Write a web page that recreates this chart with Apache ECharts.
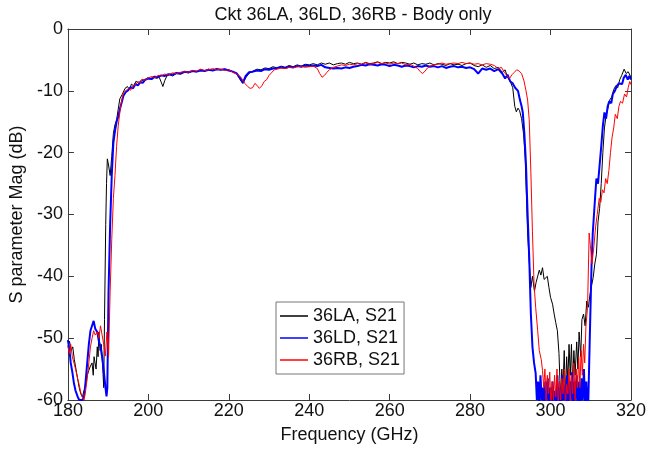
<!DOCTYPE html>
<html>
<head>
<meta charset="utf-8">
<script src="https://cdn.jsdelivr.net/npm/echarts@6/dist/echarts.min.js"></script>
<style>html,body{margin:0;padding:0;background:#fff}#c{width:649px;height:449px}</style>
</head>
<body>
<div id="c"></div>
<script>
const titleText = 'Ckt 36LA, 36LD, 36RB - Body only';
const xName = 'Frequency (GHz)';
const yName = 'S parameter Mag (dB)';
const seriesNames = ['36LA, S21', '36LD, S21', '36RB, S21'];
const xTicks = [180, 200, 220, 240, 260, 280, 300, 320];
const yTicks = [-60, -50, -40, -30, -20, -10, 0];

// [frequency GHz, dB]
const s21_36LA = [
[180,-51.4],[180.4,-50.5],[180.8,-52],[181.2,-51.4],[181.6,-53.5],[182,-55],[182.4,-56.5],[182.8,-58],[183.2,-59],[183.6,-59.5],[184,-58.5],[184.4,-57.8],[184.8,-56],[185.2,-55.2],[185.6,-54.5],[186,-54],[186.3,-56],[186.5,-53],[186.7,-52.9],[187,-55],[187.3,-51.4],[187.5,-53],[187.7,-49],[188,-52],[188.3,-51],[188.6,-54],[188.9,-58],[189.1,-47],[189.4,-31.6],[189.6,-25],[189.8,-21],[190.1,-22],[190.5,-23.7],[190.9,-20.6],[191.3,-16.9],[191.7,-15.5],[192.1,-14.7],[192.5,-13],[192.9,-11.3],[193.5,-10.6],[194.2,-9.6],[194.8,-9.3],[195.3,-9.8],[195.8,-8.9],[196.3,-9.2],[197,-8.4],[197.6,-8.8],[198.3,-8.2],[199,-8.5],[199.7,-7.9],[200.5,-8.1],[201.2,-7.7],[202,-8.0],[202.7,-7.8],[203.2,-8.6],[203.6,-9.3],[204.1,-8.3],[204.6,-7.6],[205.3,-7.4],[206,-7.6],[207,-7.2],[208,-7.3],[209,-7.0],[210,-7.1],[211,-6.8],[212,-6.9],[213,-6.6],[214,-6.8],[215,-6.5],[216,-6.7],[217,-6.4],[218,-6.6],[219,-6.5],[220,-6.6],[221,-6.9],[222,-7.3],[222.8,-8.2],[223.5,-8.8],[224.2,-7.9],[225,-7.2],[226,-6.8],[227,-6.5],[228,-6.6],[229,-6.3],[230,-6.4],[231,-6.1],[232,-6.3],[233,-6.0],[234,-6.2],[235,-5.9],[236,-6.1],[237,-5.8],[238,-6.0],[239,-5.7],[240,-5.8],[241,-5.6],[242,-5.8],[243,-5.5],[244,-5.7],[245,-5.5],[246,-5.8],[247,-5.6],[248,-5.5],[249,-5.7],[250,-5.4],[251,-5.6],[252,-5.5],[253,-5.7],[254,-5.4],[255,-5.6],[256,-5.5],[257,-5.3],[258,-5.6],[259,-5.4],[260,-5.5],[261,-5.3],[262,-5.6],[263,-5.4],[264,-5.5],[265,-5.7],[266,-5.5],[267,-5.8],[268,-5.6],[269,-5.7],[270,-5.5],[271,-5.8],[272,-5.6],[273,-5.7],[274,-5.9],[275,-5.6],[276,-5.8],[277,-5.7],[278,-5.9],[279,-5.6],[280,-5.5],[281,-5.9],[282,-6.1],[283,-5.8],[284,-6.2],[285,-5.9],[286,-6.4],[287,-6.2],[288,-7.0],[288.7,-6.6],[289.3,-7.8],[290,-8.5],[290.6,-9.5],[291.1,-12.5],[291.5,-13.4],[291.9,-12.8],[292.3,-13.2],[292.8,-14.5],[293.3,-17],[293.7,-21],[294,-27],[294.3,-33],[294.6,-36.5],[295.1,-41.8],[295.5,-40],[296,-42.4],[296.4,-41],[296.8,-40.8],[297.2,-39],[297.6,-39.8],[298,-38.6],[298.4,-40.5],[298.8,-40.8],[299.2,-40],[299.6,-41.8],[300,-43.4],[300.5,-44.5],[300.9,-46.1],[301.3,-47.5],[301.7,-48.8],[302.1,-52.5],[302.5,-60],[302.8,-55],[303.1,-58],[303.4,-52],[303.7,-60],[304,-53],[304.3,-57],[304.6,-51],[304.9,-56],[305.2,-51],[305.5,-58],[305.8,-52],[306.1,-56],[306.5,-50.6],[306.8,-55],[307.1,-49],[307.5,-53],[307.8,-47],[308.2,-46.1],[308.6,-48],[309,-44],[309.4,-45],[309.8,-43],[310.2,-41.5],[310.6,-40.2],[311,-38],[311.4,-36.5],[311.8,-31.2],[312.2,-29],[312.6,-25],[313,-20],[313.4,-16],[313.8,-14],[314.2,-13],[314.7,-11.5],[315.2,-11],[315.7,-9.8],[316.2,-9.2],[316.7,-9.5],[317.2,-8.2],[317.7,-7.5],[318.3,-6.5],[318.8,-7.2],[319.3,-6.9],[320,-7.8]
];

const s21_36LD = [
[180,-50.3],[180.4,-52],[180.7,-54],[181.1,-55.5],[181.5,-57.3],[181.9,-58.5],[182.4,-59.4],[182.8,-60],[183.2,-59.8],[183.6,-60],[184,-59.5],[184.4,-57],[184.8,-54],[185.2,-51],[185.6,-48.8],[186,-48],[186.4,-47.2],[186.8,-48.5],[187.3,-49],[187.7,-50.5],[188.1,-51.4],[188.5,-53],[188.9,-55.2],[189.3,-57.8],[189.6,-59.4],[189.8,-58],[190.1,-42.4],[190.5,-31.6],[190.9,-23.7],[191.3,-18.4],[191.7,-16.5],[192.1,-15],[192.5,-14.2],[192.9,-13],[193.4,-11.8],[193.8,-10.8],[194.4,-10.2],[195,-9.9],[195.6,-9.4],[196.2,-9.6],[196.8,-8.9],[197.4,-9.1],[198,-8.6],[198.6,-8.7],[199.2,-8.2],[200,-8.0],[200.8,-8.1],[201.6,-7.7],[202.4,-7.8],[203.2,-7.5],[204,-7.6],[205,-7.3],[206,-7.4],[207,-7.1],[208,-7.2],[209,-6.9],[210,-7.0],[211,-6.8],[212,-6.9],[213,-6.7],[214,-6.8],[215,-6.6],[216,-6.7],[217,-6.5],[218,-6.6],[219,-6.5],[220,-6.7],[221,-6.9],[222,-7.2],[222.8,-7.9],[223.5,-8.7],[224.2,-7.6],[225,-7.0],[226,-6.9],[227,-6.7],[228,-6.8],[229,-6.5],[230,-6.6],[231,-6.4],[232,-6.3],[233,-6.2],[234,-6.3],[235,-6.1],[236,-6.2],[237,-6.0],[238,-6.1],[239,-5.9],[240,-6.0],[241,-5.9],[242,-6.0],[243,-5.8],[244,-6.2],[245,-6.3],[246,-6.4],[247,-6.3],[248,-6.4],[249,-6.2],[250,-6.3],[251,-6.1],[252,-6.0],[253,-5.8],[254,-5.9],[255,-5.7],[256,-5.8],[257,-5.9],[258,-5.7],[259,-5.8],[260,-6.0],[261,-5.8],[262,-5.9],[263,-6.1],[264,-5.9],[265,-6.0],[266,-6.2],[267,-6.0],[268,-6.1],[269,-5.9],[270,-6.1],[271,-6.0],[272,-6.2],[273,-6.0],[274,-6.3],[275,-6.1],[276,-6.0],[277,-6.2],[278,-6.1],[279,-6.3],[280,-6.2],[281,-6.5],[282,-7.2],[283,-6.4],[284,-6.6],[285,-6.4],[286,-6.8],[287,-6.5],[288,-7.2],[288.7,-8.0],[289.3,-7.4],[290,-8.5],[290.6,-8.8],[291.2,-9.5],[291.9,-10],[292.4,-11.5],[292.8,-12.5],[293.1,-13.5],[293.5,-17],[293.9,-22],[294.3,-30],[294.7,-37],[295.1,-46],[295.5,-51.4],[295.9,-54],[296.3,-55.7],[296.6,-60],[296.9,-57],[297.2,-61],[297.5,-56],[297.8,-60],[298.1,-58],[298.4,-62],[298.7,-57],[299,-60],[299.3,-56.5],[299.6,-61],[299.9,-58],[300.2,-62],[300.5,-57],[300.8,-60],[301.1,-58.5],[301.4,-62],[301.7,-56],[302,-61],[302.3,-58],[302.6,-62],[302.9,-56],[303.2,-60],[303.5,-57.5],[303.8,-62],[304.1,-56],[304.4,-61],[304.7,-57],[305,-60],[305.3,-55.5],[305.6,-61],[305.9,-57],[306.2,-60],[306.5,-56],[306.8,-61],[307.1,-57],[307.4,-62],[307.7,-56.5],[308,-60],[308.3,-55],[308.6,-61],[308.9,-57],[309.2,-62],[309.4,-60],[309.8,-48.7],[310.2,-38],[310.5,-33],[310.8,-30],[311.1,-27],[311.4,-24.2],[311.8,-25],[312.2,-22],[312.6,-19],[313,-15.7],[313.4,-13.5],[313.8,-14.5],[314.2,-12.5],[314.6,-11.7],[315.1,-12],[315.5,-10.5],[316,-10],[316.5,-9.2],[317,-8.8],[317.3,-8.5],[317.8,-8.9],[318.2,-7.9],[318.7,-7.4],[319.2,-8.2],[319.6,-7.6],[320,-8.2]
];

const s21_36RB = [
[180,-51.4],[180.4,-52.5],[180.7,-51],[181.1,-53],[181.5,-54],[181.9,-55],[182.4,-56.5],[182.8,-57.5],[183.2,-58.8],[183.6,-59.5],[184,-60],[184.4,-58.5],[184.8,-56.5],[185.2,-54],[185.6,-51.4],[186,-50],[186.4,-48.8],[186.8,-49.5],[187.3,-49],[187.7,-50],[188.1,-48],[188.5,-49.5],[188.9,-51],[189.3,-52.9],[189.7,-49],[190.1,-53],[190.5,-42.4],[190.9,-34],[191.3,-27.4],[191.7,-23.7],[192.1,-19],[192.5,-15.7],[193,-13],[193.4,-11.5],[193.8,-10.3],[194.4,-10.0],[195,-9.6],[195.6,-9.9],[196.2,-9.2],[196.8,-9.0],[197.4,-8.5],[198,-8.7],[198.6,-8.1],[199.2,-8.3],[200,-7.9],[200.8,-7.7],[201.6,-7.9],[202.4,-7.5],[203.2,-7.6],[204,-7.3],[205,-7.4],[206,-7.1],[207,-7.2],[208,-7.0],[209,-6.9],[210,-7.0],[211,-6.7],[212,-6.8],[213,-6.5],[214,-6.7],[215,-6.6],[216,-6.4],[217,-6.6],[218,-6.5],[219,-6.7],[220,-6.6],[221,-7.0],[222,-7.3],[223,-7.8],[224,-8.8],[224.7,-9.3],[225.3,-9.6],[225.9,-9.5],[226.5,-8.8],[227,-9.1],[227.6,-9.6],[228.2,-9.2],[228.8,-8.5],[229.4,-8.2],[230,-7.5],[230.6,-7.1],[231.3,-6.6],[232,-6.5],[233,-6.3],[234,-6.4],[235,-6.2],[236,-6.3],[237,-6.1],[238,-6.0],[239,-6.2],[240,-6.1],[241,-6.0],[242,-6.4],[242.6,-7.2],[243.2,-7.8],[243.8,-7.5],[244.4,-7.0],[245,-6.6],[246,-6.2],[247,-6.0],[248,-5.8],[249,-5.9],[250,-5.7],[251,-5.8],[252,-5.6],[253,-5.7],[254,-5.5],[255,-5.7],[256,-5.6],[257,-5.4],[258,-5.6],[259,-5.5],[260,-5.7],[261,-5.5],[262,-5.6],[263,-5.5],[264,-5.8],[265,-5.7],[266,-6.0],[267,-6.4],[267.6,-6.9],[268.2,-7.2],[268.8,-6.8],[269.4,-6.3],[270,-6.0],[271,-5.8],[272,-5.7],[273,-5.5],[274,-5.7],[275,-5.6],[276,-5.5],[277,-5.6],[278,-5.4],[279,-5.6],[280,-5.5],[281,-5.7],[282,-5.6],[283,-5.8],[284,-5.6],[285,-5.7],[286,-5.9],[287,-6.4],[287.8,-6.2],[288.5,-7.0],[289.2,-7.6],[289.8,-8.0],[290.4,-7.4],[291,-7.0],[291.6,-6.6],[292.2,-6.8],[292.8,-7.2],[293.4,-8.4],[293.9,-10],[294.3,-11.5],[294.7,-14.7],[295.1,-23],[295.5,-32.8],[295.9,-41.3],[296.3,-45],[296.8,-48.8],[297.2,-52],[297.7,-53.5],[298,-55.2],[298.3,-58],[298.6,-55],[298.9,-60],[299.2,-56],[299.5,-59],[299.8,-55.5],[300.1,-61],[300.4,-57],[300.7,-60],[301,-56],[301.3,-59.5],[301.6,-55],[301.9,-61],[302.2,-57],[302.5,-60],[302.8,-56.5],[303.1,-59],[303.4,-55],[303.7,-61],[304,-57.5],[304.3,-59],[304.6,-55],[304.9,-60.5],[305.2,-56],[305.5,-59],[305.8,-54],[306.1,-60],[306.4,-55],[306.7,-58],[307,-53],[307.3,-58],[307.6,-52],[307.9,-56],[308.2,-51],[308.5,-54],[308.8,-48],[309.2,-45],[309.6,-33],[309.9,-35],[310.3,-38],[310.8,-35],[311.2,-32],[311.6,-30],[312.1,-27.4],[312.5,-28],[312.9,-26],[313.3,-26.5],[313.7,-24.2],[314.1,-25],[314.5,-22.9],[314.9,-20],[315.3,-17.5],[315.7,-16],[316.1,-13.8],[316.6,-14.5],[317,-12.5],[317.4,-11.7],[317.9,-12],[318.4,-10.5],[318.9,-11],[319.3,-9.5],[319.7,-8.5],[320,-9]
];

const FONT = 'Liberation Sans, Arial, sans-serif';
const axisColor = '#3a3a3a';
const xMin = xTicks[0], xMax = xTicks[xTicks.length - 1];
const yMin = yTicks[0], yMax = yTicks[yTicks.length - 1];

function xAxisCfg(showLabels, pos) {
  return {
    type: 'value', position: pos, min: xMin, max: xMax, interval: 20,
    name: showLabels ? xName : '', nameLocation: 'middle', nameGap: 26,
    nameTextStyle: { fontFamily: FONT, fontSize: 18, color: '#111' },
    axisLine: { show: true, onZero: false, lineStyle: { color: axisColor, width: 1 } },
    axisTick: { show: true, inside: true, length: 6, lineStyle: { color: axisColor } },
    axisLabel: { show: showLabels, fontFamily: FONT, fontSize: 18, color: '#111', margin: 2 },
    splitLine: { show: false }
  };
}
function yAxisCfg(showLabels, pos) {
  return {
    type: 'value', position: pos, min: yMin, max: yMax, interval: 10,
    name: showLabels ? yName : '', nameLocation: 'middle', nameGap: 40, nameRotate: 90,
    nameTextStyle: { fontFamily: FONT, fontSize: 18, color: '#111' },
    axisLine: { show: true, onZero: false, lineStyle: { color: axisColor, width: 1 } },
    axisTick: { show: true, inside: true, length: 6, lineStyle: { color: axisColor } },
    axisLabel: { show: showLabels, fontFamily: FONT, fontSize: 18, color: '#111', margin: 5 },
    splitLine: { show: false }
  };
}

const colors = ['#000000', '#0000ff', '#ff0000'];
const widths = [1, 2, 1];
const datasets = [s21_36LA, s21_36LD, s21_36RB];

const chart = echarts.init(document.getElementById('c'), null, { renderer: 'canvas' });
chart.setOption({
  animation: false,
  backgroundColor: '#fff',
  title: {
    text: titleText, left: 348, top: 1, textAlign: 'center',
    textStyle: { fontFamily: FONT, fontSize: 18, fontWeight: 'normal', color: '#111' }
  },
  grid: { left: 62, right: 14, top: 29, bottom: 45, containLabel: false },
  legend: {
    orient: 'vertical', left: 276, top: 302,
    data: seriesNames.map((n, i) => ({
      name: n, icon: 'rect',
      itemStyle: { color: colors[i], borderWidth: 0, opacity: 1 }
    })),
    backgroundColor: '#fff', borderColor: '#777', borderWidth: 1,
    padding: [5, 4, 5, 4], itemGap: 4, itemWidth: 28, itemHeight: 1.5,
    textStyle: { fontFamily: FONT, fontSize: 18, color: '#111', lineHeight: 18 }
  },
  xAxis: [xAxisCfg(true, 'bottom'), xAxisCfg(false, 'top')],
  yAxis: [yAxisCfg(true, 'left'), yAxisCfg(false, 'right')],
  series: seriesNames.map((n, i) => ({
    name: n, type: 'line', data: datasets[i], xAxisIndex: 0, yAxisIndex: 0,
    symbol: 'none', showSymbol: false, clip: true,
    lineStyle: { color: colors[i], width: widths[i] },
    itemStyle: { color: colors[i] }
  }))
});
</script>
</body>
</html>
